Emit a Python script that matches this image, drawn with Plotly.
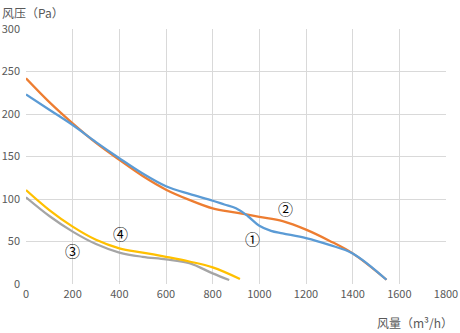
import plotly.graph_objects as go

# Fan performance curves: airflow (m³/h) vs. static pressure (Pa)
flow_1 = [0, 100, 200, 300, 400, 500, 600, 700, 800, 850, 900, 950, 1000, 1050, 1100, 1200, 1300, 1400, 1545]
pres_1 = [223, 205, 187, 167, 148, 130, 115, 106, 98, 93.5, 89, 80, 68.5, 62.5, 59.5, 54, 46, 36, 5]

flow_2 = [0, 100, 200, 300, 400, 500, 600, 700, 800, 900, 1000, 1100, 1200, 1300, 1400, 1545]
pres_2 = [242, 214, 189, 166, 146, 127, 111, 99, 89, 84, 79, 74, 64, 51, 36, 5]

flow_3 = [0, 100, 200, 300, 400, 500, 600, 700, 800, 871]
pres_3 = [102, 80, 61.6, 47, 37, 32, 29, 24.5, 12.5, 4.7]

flow_4 = [0, 100, 200, 300, 400, 500, 600, 700, 800, 917]
pres_4 = [110.6, 87, 67.5, 52, 42, 37, 32, 26.5, 19.6, 6]

labels = ["①", "②", "③", "④"]
label_x = [972, 1114, 201, 403]
label_y = [53, 89, 40, 59]

x_ticks = list(range(0, 1801, 200))
y_ticks = list(range(0, 301, 50))

colors = ["#5B9BD5", "#ED7D31", "#A5A5A5", "#FFC000"]
series = [(flow_1, pres_1), (flow_2, pres_2), (flow_3, pres_3), (flow_4, pres_4)]

font_family = "Noto Sans CJK SC"
text_color = "#595959"

fig = go.Figure()
# draw gray/yellow first so blue/orange sit on top
for idx in [2, 3, 1, 0]:
    fx, fy = series[idx]
    fig.add_trace(go.Scatter(
        x=fx, y=fy, mode="lines",
        line=dict(color=colors[idx], width=2.25, shape="spline", smoothing=1.0),
        showlegend=False, hoverinfo="skip",
    ))

for t, lx, ly in zip(labels, label_x, label_y):
    fig.add_annotation(x=lx, y=ly, text=t, showarrow=False,
                       font=dict(family=font_family, size=15, color="#000000"))

fig.add_annotation(xref="paper", yref="paper", x=-26 / 420, y=1 + 17 / 255,
                   xanchor="left", yanchor="middle", text="风压（Pa）", showarrow=False,
                   font=dict(family=font_family, size=12, color=text_color))
fig.add_annotation(xref="paper", yref="paper", x=1 + 9 / 420, y=-38 / 255,
                   xanchor="right", yanchor="middle", text="风量（m³/h）", showarrow=False,
                   font=dict(family=font_family, size=12, color=text_color))

# small break in the grid at the lower-left corner
fig.add_shape(type="rect", xref="x", yref="y", x0=-10, x1=16, y0=-1.5, y1=40,
              fillcolor="white", line=dict(width=0), layer="between")

fig.update_layout(
    width=460, height=333,
    margin=dict(l=26, r=14, t=29, b=49, autoexpand=False),
    paper_bgcolor="white", plot_bgcolor="white",
    font=dict(family=font_family, size=11, color=text_color),
    xaxis=dict(range=[0, 1800], tickvals=x_ticks, showgrid=True, gridcolor="#D9D9D9",
               gridwidth=1, zeroline=False, showline=False, ticks="", automargin=False,
               ticklabelstandoff=2,
               tickfont=dict(size=11, color=text_color), fixedrange=True),
    yaxis=dict(range=[0, 300], tickvals=y_ticks, showgrid=True, gridcolor="#D9D9D9",
               gridwidth=1, zeroline=False, showline=False, ticks="", automargin=False,
               ticklabelstandoff=5,
               tickfont=dict(size=11, color=text_color), fixedrange=True),
)

fig.write_html("out.html")
